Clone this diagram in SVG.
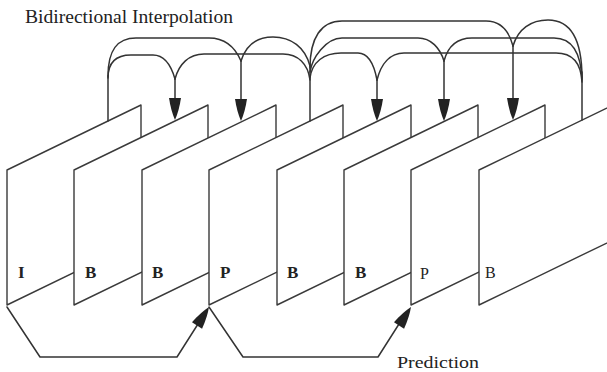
<svg xmlns="http://www.w3.org/2000/svg" xmlns:xlink="http://www.w3.org/1999/xlink" width="607" height="372" viewBox="0 0 607 372">
<style>
.frame{fill:#fff;stroke:#3a3a3a;stroke-width:1.4;stroke-linejoin:round}
.lbl{font-family:"Liberation Serif","DejaVu Serif",serif;font-size:17px;font-weight:bold;fill:#222}
.lbl2{font-family:"Liberation Serif","DejaVu Serif",serif;font-size:16px;fill:#222}
.cap{font-family:"Liberation Serif","DejaVu Serif",serif;fill:#222}
.c{fill:none;stroke:#333;stroke-width:1.5;stroke-linecap:round;stroke-linejoin:round}
</style>
<defs>
<path id="ah" d="M-6,-22 L6,-22 Q4,-9 0,0 Q-4,-9 -6,-22 Z" fill="#222"/>
</defs>
<rect width="607" height="372" fill="#fff"/>
<text class="cap" x="25" y="23" font-size="18" textLength="208" lengthAdjust="spacingAndGlyphs">Bidirectional Interpolation</text>
<g id="frame1"><polygon class="frame" points="7,170 141,105 141,240 7,305"/><text class="lbl" x="18" y="278">I</text></g>
<g id="frame2"><polygon class="frame" points="74,170 208,105 208,240 74,305"/><text class="lbl" x="85" y="278">B</text></g>
<g id="frame3"><polygon class="frame" points="142,170 276,105 276,240 142,305"/><text class="lbl" x="152" y="278">B</text></g>
<g id="frame4"><polygon class="frame" points="209,170 343,105 343,240 209,305"/><text class="lbl" x="220" y="278">P</text></g>
<g id="frame5"><polygon class="frame" points="277,170 411,105 411,240 277,305"/><text class="lbl" x="287" y="278">B</text></g>
<g id="frame6"><polygon class="frame" points="344,170 478,105 478,240 344,305"/><text class="lbl" x="355" y="278">B</text></g>
<g id="frame7"><polygon class="frame" points="411,170 545,105 545,240 411,305"/><text class="lbl2" x="420" y="279">P</text></g>
<g id="frame8"><polygon class="frame" points="479,170 613,105 613,240 479,305"/><text class="lbl2" x="485" y="278">B</text></g>
<g id="connectors">
<path class="c" d="M108,121 V76"/>
<path class="c" d="M108,78 C108,62 117,55 131,55 L153,55 C164,55 171,65 175,79"/>
<path class="c" d="M108,76 C108,50 117,38 136,38 L209,38 C224,38 235,47 241,61"/>
<path class="c" d="M175,79 C179,64 189,54 204,54 L283,54 C298,54 308,64 310,80"/>
<path class="c" d="M241,61 C246,45 257,37 273,37 C291,37 305,47 310,66"/>
<path class="c" d="M310,121 V64"/>
<path class="c" d="M310,78 C312,62 324,53 341,53 L358,53 C368,53 374,64 377,80"/>
<path class="c" d="M310,72 C312,58 326,38 342,38 L418,38 C431,38 440,48 444,61"/>
<path class="c" d="M310,68 C310,38 321,21 342,21 L486,21 C500,21 509,31 513,46"/>
<path class="c" d="M582,120 V72"/>
<path class="c" d="M377,80 C381,64 390,53 404,53 L556,53 C572,53 581,63 582,82"/>
<path class="c" d="M444,61 C448,46 457,38 472,38 L554,38 C571,38 581,52 582,80"/>
<path class="c" d="M513,46 C518,29 531,20 548,20 C568,20 582,36 582,78"/>
<path class="c" d="M175,79 V99 M241,61 V99 M377,80 V99 M444,61 V99 M513,46 V99"/>
<use xlink:href="#ah" transform="translate(175,120)"/>
<use xlink:href="#ah" transform="translate(241,121)"/>
<use xlink:href="#ah" transform="translate(377,121)"/>
<use xlink:href="#ah" transform="translate(444,121)"/>
<use xlink:href="#ah" transform="translate(513,120)"/>
<path class="c" d="M7,307 L40,357 L177,357 L198,324"/>
<use xlink:href="#ah" transform="translate(209,307) rotate(-147)"/>
<path class="c" d="M209,307 L243,357 L378,357 L399,324"/>
<use xlink:href="#ah" transform="translate(411,307) rotate(-147)"/>
</g>
<text class="cap" x="397" y="368" font-size="17" textLength="82" lengthAdjust="spacingAndGlyphs">Prediction</text>
</svg>
